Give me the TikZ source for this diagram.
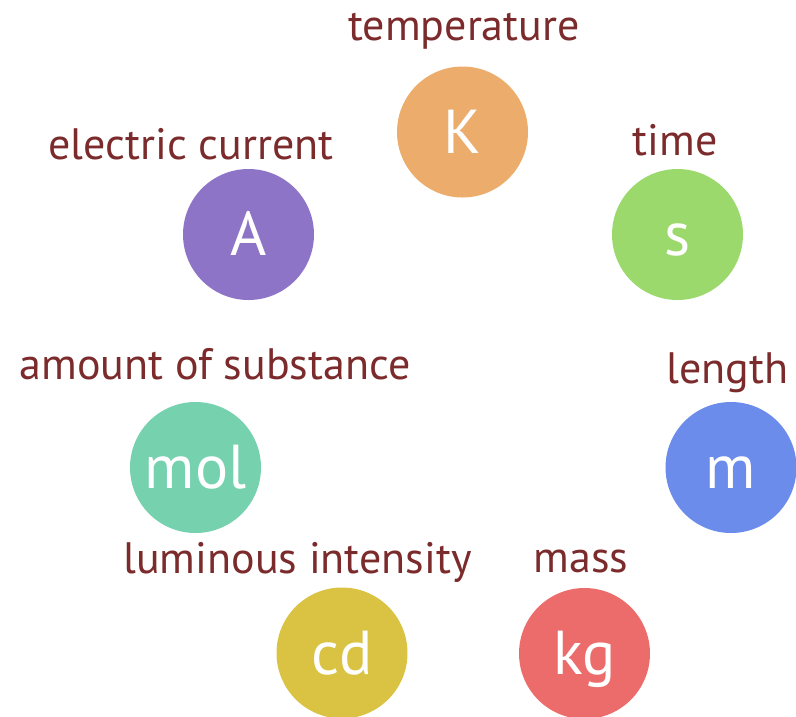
\documentclass[tikz,border=0pt]{standalone}
\usepackage{fontspec}
\setmainfont{PT Sans}
\usepackage{tikz}

\definecolor{qtyred}{HTML}{7B2B2B}
\definecolor{kelvinfill}{HTML}{ECAC6C}
\definecolor{secondfill}{HTML}{9CD96C}
\definecolor{metrefill}{HTML}{6B8CEA}
\definecolor{kilofill}{HTML}{EC6C6C}
\definecolor{candelafill}{HTML}{DAC243}
\definecolor{molefill}{HTML}{75D1AE}
\definecolor{amperefill}{HTML}{8E74C6}

\begin{document}
\begin{tikzpicture}[x=1pt,y=-1pt,
    unitdot/.style={
        circle,
        minimum size=131pt,
        inner sep=0pt
    },
    unitsym/.style={
        anchor=base,
        yshift=-21pt,
        text=white,
        font=\fontsize{62}{62}\selectfont
    },
    qtyname/.style={
        anchor=base,
        text=qtyred,
        font=\fontsize{44}{44}\selectfont
    }
]

\useasboundingbox (0,0) rectangle (796,716);
\clip (0,0) rectangle (796,716);

% temperature
\node[unitdot, fill=kelvinfill] (kelvin) at (462.5,132) {};
\node[unitsym] (kelvinsym) at (kelvin.center) {K};
\node[qtyname] (kelvinname) at (464,40) {temperature};

% time
\node[unitdot, fill=secondfill] (second) at (677.5,234.5) {};
\node[unitsym] (secondsym) at (second.center) {s};
\node[qtyname] (secondname) at (675,155) {time};

% length
\node[unitdot, fill=metrefill] (metre) at (731,467.5) {};
\node[unitsym] (metresym) at (metre.center) {m};
\node[qtyname] (metrename) at (727.5,383) {length};

% mass
\node[unitdot, fill=kilofill] (kilo) at (584.5,653.5) {};
\node[unitsym] (kilosym) at (kilo.center) {kg};
\node[qtyname] (kiloname) at (581,572) {mass};

% luminous intensity
\node[unitdot, fill=candelafill] (candela) at (342,653) {};
\node[unitsym] (candelasym) at (candela.center) {cd};
\node[qtyname] (candelaname) at (297.5,573) {luminous intensity};

% amount of substance
\node[unitdot, fill=molefill] (mole) at (195.5,467.5) {};
\node[unitsym] (molesym) at (mole.center) {mol};
\node[qtyname] (molename) at (215,379) {amount of substance};

% electric current
\node[unitdot, fill=amperefill] (ampere) at (248.5,234.5) {};
\node[unitsym] (amperesym) at (ampere.center) {A};
\node[qtyname] (amperename) at (191,159) {electric current};
\end{tikzpicture}
\end{document}
